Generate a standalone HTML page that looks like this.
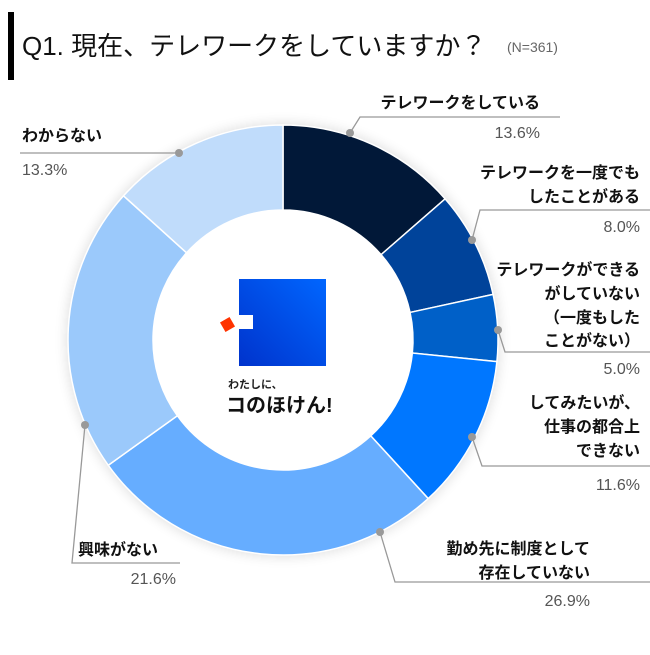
<!DOCTYPE html>
<html><head><meta charset="utf-8">
<style>
body{margin:0;background:#fff;width:650px;height:650px;overflow:hidden}
svg text{font-family:"Liberation Sans","Noto Sans CJK JP",sans-serif}
.lb{font-size:16px;font-weight:bold;fill:#111}
.pc{font-size:16px;fill:#555}
</style></head><body>
<svg width="650" height="650" viewBox="0 0 650 650">
<defs><filter id="sh" x="-20%" y="-20%" width="140%" height="140%"><feGaussianBlur stdDeviation="6"/></filter>
<linearGradient id="lg" x1="1" y1="0" x2="0" y2="1"><stop offset="0" stop-color="#0066ff"/><stop offset="1" stop-color="#0033cc"/></linearGradient></defs>
<rect x="8" y="12" width="6" height="68" fill="#000"/>
<text x="22" y="55" font-size="26" fill="#111">Q1. 現在、テレワークをしていますか？</text>
<text x="507" y="52" font-size="14" fill="#666">(N=361)</text>
<circle cx="283" cy="340" r="217" fill="#000" opacity="0.12" filter="url(#sh)"/>
<g id="slices"></g>
<circle cx="283" cy="340" r="130" fill="#fff"/>
<g>
<rect x="239" y="279" width="87" height="87" fill="url(#lg)"/>
<rect x="239" y="315" width="14" height="14" fill="#fff"/>
<rect x="222" y="319" width="11" height="11" fill="#ff3300" transform="rotate(-30 227.5 324.5)"/>
<text x="228" y="388" font-size="11" font-weight="bold" fill="#222">わたしに、</text>
<text x="226" y="412" font-size="20" font-weight="bold" fill="#111">コのほけん!</text>
</g>
<g fill="none" stroke="#999" stroke-width="1.3">
<polyline points="350,133 360,117 560,117"/>
<polyline points="472,240 480,210 650,210"/>
<polyline points="498,330 505,352 650,352"/>
<polyline points="472,437 482,466 650,466"/>
<polyline points="380,532 395,582 650,582"/>
<polyline points="85,425 72,563 180,563"/>
<polyline points="179,153 20,153"/>
</g>
<g fill="#999"><circle cx="350" cy="133" r="4"/><circle cx="472" cy="240" r="4"/><circle cx="498" cy="330" r="4"/><circle cx="472" cy="437" r="4"/><circle cx="380" cy="532" r="4"/><circle cx="85" cy="425" r="4"/><circle cx="179" cy="153" r="4"/></g>
<g text-anchor="end">
<text class="lb" x="540" y="108">テレワークをしている</text>
<text class="pc" x="540" y="138">13.6%</text>
<text class="lb" x="640" y="178">テレワークを一度でも</text>
<text class="lb" x="640" y="202">したことがある</text>
<text class="pc" x="640" y="232">8.0%</text>
<text class="lb" x="640" y="275">テレワークができる</text>
<text class="lb" x="640" y="299">がしていない</text>
<text class="lb" x="640" y="323">（一度もした</text>
<text class="lb" x="640" y="346">ことがない）</text>
<text class="pc" x="640" y="374">5.0%</text>
<text class="lb" x="640" y="408">してみたいが、</text>
<text class="lb" x="640" y="432">仕事の都合上</text>
<text class="lb" x="640" y="456">できない</text>
<text class="pc" x="640" y="490">11.6%</text>
<text class="lb" x="590" y="554">勤め先に制度として</text>
<text class="lb" x="590" y="578">存在していない</text>
<text class="pc" x="590" y="606">26.9%</text>
<text class="pc" x="176" y="584">21.6%</text>
</g>
<text class="lb" x="78" y="555">興味がない</text>
<text class="lb" x="22" y="141">わからない</text>
<text class="pc" x="22" y="175">13.3%</text>
</svg>
<script>
const categories=["テレワークをしている","テレワークを一度でもしたことがある","テレワークができるがしていない","してみたいが、仕事の都合上できない","勤め先に制度として存在していない","興味がない","わからない"];
const values=[13.6,8.0,5.0,11.6,26.9,21.6,13.3];
const colors=["#011838","#00439a","#0060c8","#0077ff","#66adff","#9bc9fb","#c0dcfb"];
const cx=283,cy=340,R=215,r=130;
const g=document.getElementById('slices');
const total=values.reduce((a,b)=>a+b,0);
let acc=0;
function pt(a,rad){return [cx+rad*Math.sin(a),cy-rad*Math.cos(a)];}
values.forEach((v,i)=>{
 const a0=acc/total*2*Math.PI;acc+=v;const a1=acc/total*2*Math.PI;
 const lg=(a1-a0)>Math.PI?1:0;
 const p0=pt(a0,R),p1=pt(a1,R),q1=pt(a1,r),q0=pt(a0,r);
 const p=document.createElementNS('http://www.w3.org/2000/svg','path');
 p.setAttribute('d',`M${p0} A${R},${R} 0 ${lg} 1 ${p1} L${q1} A${r},${r} 0 ${lg} 0 ${q0}Z`);
 p.setAttribute('fill',colors[i]);
 p.setAttribute('stroke','#fff');p.setAttribute('stroke-width','1.5');
 
 
 g.appendChild(p);
});
</script>
</body></html>
